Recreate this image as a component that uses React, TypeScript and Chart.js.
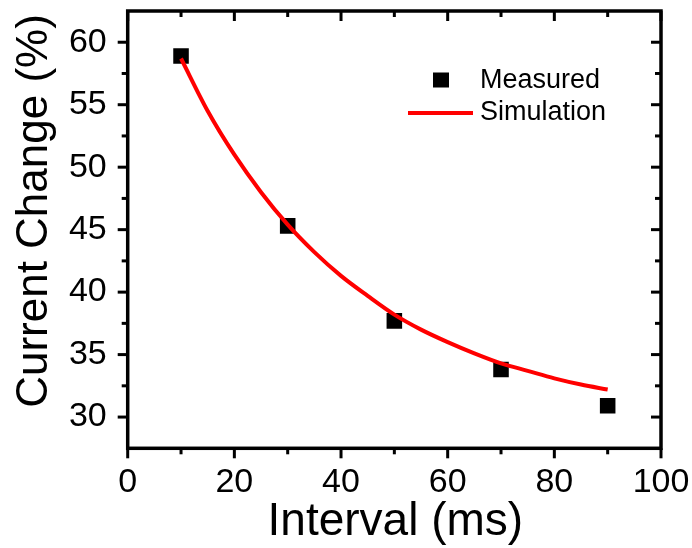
import React, { useEffect, useRef } from 'react';
import { Chart, registerables } from 'chart.js';

Chart.register(...registerables);

// ---- data ----
const measuredIntervals = [10, 30, 50, 70, 90];
const measuredChange = [58.9, 45.3, 37.7, 33.8, 30.9];

const simIntervals = [10, 15, 20, 25, 30, 35, 40, 45, 50, 55, 60, 65, 70, 75, 80, 85, 90];
const simChange = [58.7, 54.5, 51.0, 48.0, 45.4, 43.2, 41.3, 39.7, 38.2, 37.0, 36.0, 35.1, 34.3, 33.7, 33.1, 32.6, 32.2];

const xTickValues = [0, 20, 40, 60, 80, 100];
const xMinorTickValues = [10, 30, 50, 70, 90];
const yTickValues = [30, 35, 40, 45, 50, 55, 60];
const yMinorTickValues = [32.5, 37.5, 42.5, 47.5, 52.5, 57.5];
const X_MIN = 0;
const X_MAX = 100;
const Y_MIN = 27.5;
const Y_MAX = 62.5;

const xTitle = 'Interval (ms)';
const yTitle = 'Current Change (%)';
const FONT = '"Liberation Sans", Arial, sans-serif';

const framePlugin = {
  id: 'originFrame',
  afterDraw(chart: any) {
    const { ctx, chartArea: a, scales } = chart;
    const x = scales.x;
    const y = scales.y;
    ctx.save();
    ctx.strokeStyle = '#000';
    ctx.lineWidth = 3.5;
    ctx.lineCap = 'square';
    ctx.strokeRect(a.left, a.top, a.right - a.left, a.bottom - a.top);

    ctx.lineCap = 'butt';
    ctx.lineWidth = 3;
    const seg = (x1: number, y1: number, x2: number, y2: number) => {
      ctx.beginPath();
      ctx.moveTo(x1, y1);
      ctx.lineTo(x2, y2);
      ctx.stroke();
    };
    const major = 10;
    const minor = 6;
    xTickValues.forEach((v) => {
      const px = x.getPixelForValue(v);
      seg(px, a.bottom, px, a.bottom + major);
      seg(px, a.top, px, a.top + major);
    });
    xMinorTickValues.forEach((v) => {
      const px = x.getPixelForValue(v);
      seg(px, a.bottom, px, a.bottom + minor);
      seg(px, a.top, px, a.top + minor);
    });
    yTickValues.forEach((v) => {
      const py = y.getPixelForValue(v);
      seg(a.left, py, a.left - major, py);
      seg(a.right, py, a.right - major, py);
    });
    yMinorTickValues.forEach((v) => {
      const py = y.getPixelForValue(v);
      seg(a.left, py, a.left - minor, py);
      seg(a.right, py, a.right - minor, py);
    });

    // axis titles
    ctx.fillStyle = '#000';
    ctx.font = `46px ${FONT}`;
    ctx.textAlign = 'center';
    ctx.textBaseline = 'alphabetic';
    ctx.fillText(xTitle, (a.left + a.right) / 2 + 1, 535);

    ctx.save();
    ctx.translate(47, 211);
    ctx.rotate(-Math.PI / 2);
    ctx.font = `44px ${FONT}`;
    ctx.fillText(yTitle, 0, 0);
    ctx.restore();

    // legend
    const ds = chart.data.datasets;
    const meas = ds.find((d: any) => d.id === 'measured');
    const sim = ds.find((d: any) => d.id === 'simulation');
    ctx.font = `27px ${FONT}`;
    ctx.textAlign = 'left';
    ctx.textBaseline = 'middle';
    ctx.fillStyle = meas.backgroundColor;
    ctx.fillRect(441 - 8, 80 - 7.5, 16, 15);
    ctx.fillStyle = '#000';
    ctx.fillText(meas.label, 480, 81);
    ctx.strokeStyle = sim.borderColor;
    ctx.lineWidth = sim.borderWidth;
    seg(408, 113, 473, 113);
    ctx.fillStyle = '#000';
    ctx.fillText(sim.label, 480, 113);
    ctx.restore();
  },
};

export default function App() {
  const canvasRef = useRef<HTMLCanvasElement | null>(null);

  useEffect(() => {
    if (!canvasRef.current) return;
    const chart = new Chart(canvasRef.current, {
      type: 'scatter',
      data: {
        datasets: [
          {
            id: 'simulation',
            label: 'Simulation',
            data: simIntervals.map((v, i) => ({ x: v, y: simChange[i] })),
            showLine: true,
            borderColor: '#ff0000',
            backgroundColor: '#ff0000',
            borderWidth: 4,
            pointRadius: 0,
            cubicInterpolationMode: 'monotone',
          } as any,
          {
            id: 'measured',
            label: 'Measured',
            data: measuredIntervals.map((v, i) => ({ x: v, y: measuredChange[i] })),
            showLine: false,
            pointStyle: 'rect',
            pointRadius: 11,
            pointHoverRadius: 11,
            backgroundColor: '#000000',
            borderColor: '#000000',
            borderWidth: 0,
          } as any,
        ],
      },
      options: {
        animation: false,
        responsive: true,
        maintainAspectRatio: false,
        layout: { padding: { left: 0, top: 10.4, right: 31, bottom: 0 } },
        plugins: { legend: { display: false }, tooltip: { enabled: false } },
        scales: {
          x: {
            type: 'linear',
            min: X_MIN,
            max: X_MAX,
            afterBuildTicks: (s: any) => {
              s.ticks = xTickValues.map((v) => ({ value: v }));
            },
            afterFit: (s: any) => {
              s.height = 99.7;
              s.paddingLeft = 0;
              s.paddingRight = 0;
              s.paddingTop = 0;
              s.paddingBottom = 0;
            },
            ticks: {
              autoSkip: false,
              maxRotation: 0,
              padding: 14,
              color: '#000',
              font: { family: FONT, size: 34 },
            },
            grid: { display: false, drawTicks: false },
            border: { display: false },
          },
          y: {
            type: 'linear',
            min: Y_MIN,
            max: Y_MAX,
            afterBuildTicks: (s: any) => {
              s.ticks = [Y_MIN, ...yTickValues, Y_MAX].map((v) => ({ value: v }));
            },
            afterFit: (s: any) => {
              s.width = 127.7;
              s.paddingLeft = 0;
              s.paddingRight = 0;
              s.paddingTop = 0;
              s.paddingBottom = 0;
            },
            ticks: {
              autoSkip: false,
              padding: 21,
              color: '#000',
              font: { family: FONT, size: 34 },
              callback: (v: any) => (yTickValues.includes(v) ? String(v) : null),
            },
            grid: { display: false, drawTicks: false },
            border: { display: false },
          },
        },
      },
      plugins: [framePlugin],
    });
    return () => chart.destroy();
  }, []);

  return (
    <div style={{ position: 'fixed', left: 0, top: 0, width: 692, height: 548, background: '#fff' }}>
      <canvas ref={canvasRef} />
    </div>
  );
}
